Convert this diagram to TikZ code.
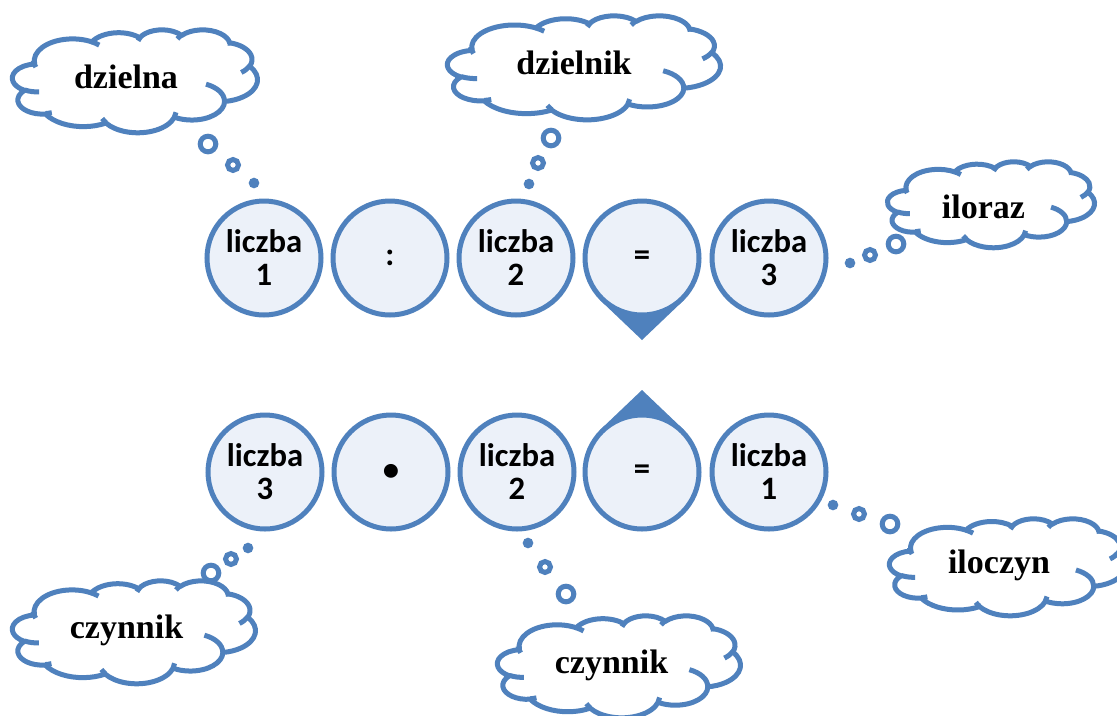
\documentclass[tikz,border=0pt]{standalone}
\usepackage{fontspec}
\setmainfont{Liberation Serif}
\newfontfamily\labelfont{Carlito}
\usetikzlibrary{calc,backgrounds}

\definecolor{accent}{RGB}{79,129,189}
\definecolor{paleblue}{RGB}{236,241,249}

% Cloud outline in a 4320 x 4320 frame with y pointing down.
% Each arc is given by its radii and by true angles on the ellipse,
% which are turned into the parametric angles that TikZ uses.
\makeatletter
\newcommand\cloudoutline{}
\newcommand\cloudhooks{}
\newcommand\ooarc[5]{% #1 path macro, #2 x radius, #3 y radius, #4 start, #5 sweep
  \pgfmathsetmacro\oo@ta{atan2((#2)*sin(#4),(#3)*cos(#4))}%
  \pgfmathsetmacro\oo@tb{atan2((#2)*sin((#4)+(#5)),(#3)*cos((#4)+(#5)))}%
  \pgfmathsetmacro\oo@tb{\oo@tb+360*((#5)>0)*(\oo@tb<\oo@ta)-360*((#5)<0)*(\oo@tb>\oo@ta)}%
  \xdef#1{#1 arc[start angle=\oo@ta, end angle=\oo@tb, x radius=#2, y radius=#3]}%
}
\newcommand\oohook[6]{% start point #1,#2 then an arc
  \xdef\cloudhooks{\cloudhooks (#1,#2)}%
  \ooarc\cloudhooks{#3}{#4}{#5}{#6}%
}
\makeatother

% outer boundary of the cloud
\xdef\cloudoutline{(390,1437)}
\ooarc\cloudoutline{675.3}{919.0}{-190.4875}{123.7805}
\ooarc\cloudoutline{533.3}{726.7}{-144.1024}{89.9452}
\ooarc\cloudoutline{436.5}{594.5}{-145.8079}{99.7230}
\ooarc\cloudoutline{485.7}{659.5}{-130.9861}{117.2417}
\ooarc\cloudoutline{533.3}{727.3}{-78.7089}{109.0269}
\ooarc\cloudoutline{677.5}{922.0}{-46.2673}{130.2690}
\ooarc\cloudoutline{578.5}{786.7}{0.6250}{114.0333}
\ooarc\cloudoutline{675.2}{921.5}{22.4516}{115.1726}
\ooarc\cloudoutline{772.0}{1054.3}{66.2426}{75.7110}
\ooarc\cloudoutline{436.0}{591.8}{-274.9421}{146.7356}
\ooarc\cloudoutline{434.5}{594.5}{-246.8285}{152.5189}
\xdef\cloudoutline{\cloudoutline -- cycle}

% short inner arcs between the puffs
\oohook{469.3}{2617.7}{434.5}{594.5}{86.7420}{26.4295}
\oohook{692.8}{3489.9}{436.0}{591.8}{73.6105}{11.4475}
\oohook{1647.8}{3909.0}{675.2}{921.5}{137.6242}{14.0811}
\oohook{2882.7}{3475.1}{675.2}{921.5}{6.4533}{15.9984}
\oohook{3412.9}{2295.4}{578.5}{786.7}{-70.2924}{70.9174}
\oohook{4179.8}{1535.4}{533.3}{727.3}{30.3180}{27.7515}
\oohook{3832.4}{542.6}{485.7}{659.5}{-13.7443}{14.8589}
\oohook{2907.8}{395.2}{485.7}{659.5}{-149.1815}{18.1954}
\oohook{2214.1}{472.0}{436.5}{594.5}{-163.4943}{17.6864}
\oohook{1400.0}{519.2}{675.3}{919.0}{-66.7070}{12.3194}
\oohook{412.7}{1578.9}{675.3}{919.0}{151.5638}{23.4426}

\tikzset{
  cloudline/.style={draw=accent, line width=3.75pt, line join=round},
  ball/.style={circle, draw=accent, fill=paleblue, line width=3.75pt,
    minimum size=85.5pt, inner sep=0pt, outer sep=0pt, align=center,
    font=\labelfont\bfseries\fontsize{24.5}{24.75}\selectfont},
  cloudtext/.style={anchor=base, inner sep=0pt,
    font=\bfseries\fontsize{25.5}{30}\selectfont},
  bigring/.style={draw=accent, line width=3.75pt},
  midring/.style={draw=accent, line width=3.75pt},
  dot/.style={fill=accent},
}

% cloud frame: left, top, width, height (in picture units)
\newcommand\cloudat[4]{%
  \begin{scope}[shift={(#1,#2)}, x=#3*0.75pt/4320, y=-#4*0.75pt/4320]
    \draw[cloudline, fill=white] \cloudoutline;
    \draw[cloudline] \cloudhooks;
  \end{scope}}

% three thought bubbles: large ring, small ring, dot
\newcommand\bubbles[6]{%
  \draw[bigring] (#1,#2) circle[radius=5.85pt];
  \draw[midring] (#3,#4) circle[radius=4.1pt];
  \fill[dot] (#5,#6) circle[radius=4pt];}

\begin{document}
\begin{tikzpicture}[x=0.75pt, y=-0.75pt]
  \useasboundingbox (0,0) rectangle (1117,715);

  % clouds with their captions
  \cloudat{12.5}{29.5}{245}{103}
  \node[cloudtext] (dzielna) at (126,88) {dzielna};
  \bubbles{208}{144}{233}{165}{254}{183}

  \cloudat{447.5}{15.5}{273}{104}
  \node[cloudtext] (dzielnik) at (574,74) {dzielnik};
  \bubbles{551}{138}{538}{163}{529}{184}

  \cloudat{887.5}{161.5}{207}{86}
  \node[cloudtext] (iloraz) at (983.5,218) {iloraz};
  \bubbles{896}{244}{870}{255}{850}{263}

  \cloudat{12.5}{580.5}{243}{103}
  \node[cloudtext] (czynnikA) at (126.5,638) {czynnik};
  \bubbles{211}{573}{231}{559}{248}{548}

  \cloudat{497.5}{615.5}{243}{102}
  \node[cloudtext] (czynnikB) at (611.5,673) {czynnik};
  \bubbles{566}{594}{545}{567}{528}{543}

  \cloudat{889.5}{518.5}{236}{97}
  \node[cloudtext] (iloczyn) at (999,573) {iloczyn};
  \bubbles{890}{524}{859}{514}{833}{505}

  % division row
  \node[ball] (a1) at (264,258) {liczba\\1};
  \node[ball] (a2) at (390,258) {:};
  \node[ball] (a3) at (516,258) {liczba\\2};
  \node[ball] (a4) at (642,258) {=};
  \node[ball] (a5) at (769,258) {liczba\\3};

  % multiplication row
  \node[ball] (b1) at (265,472) {liczba\\3};
  \node[ball] (b2) at (391,472) {•};
  \node[ball] (b3) at (517,472) {liczba\\2};
  \node[ball] (b4) at (642,472) {=};
  \node[ball] (b5) at (769,472) {liczba\\1};

  % white page, then the pointed ends of the two equals signs behind the circles
  \begin{scope}[on background layer]
    \fill[white] (0,0) rectangle (1117,715);
    \fill[accent] ($(a4.center)+(42,42)$) -- ($(a4.center)+(0,82)$)
      -- ($(a4.center)+(-42,42)$) -- cycle;
    \fill[accent] ($(b4.center)+(42,-42)$) -- ($(b4.center)+(0,-82)$)
      -- ($(b4.center)+(-42,-42)$) -- cycle;
  \end{scope}
\end{tikzpicture}
\end{document}
